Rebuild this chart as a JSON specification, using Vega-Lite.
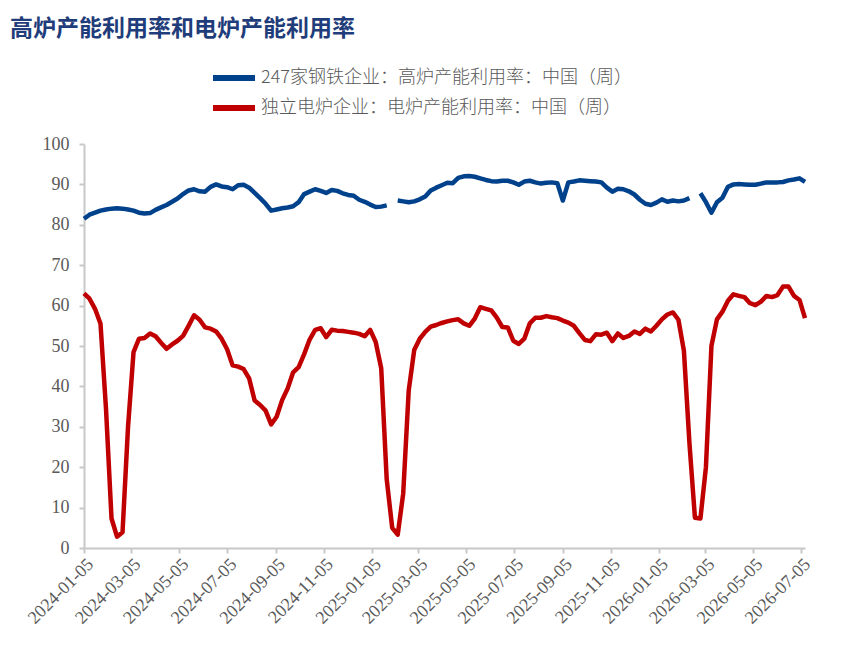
{
  "$schema": "https://vega.github.io/schema/vega-lite/v6.json",
  "width": 721,
  "height": 404,
  "autosize": {"type": "none"},
  "padding": {"left": 84, "top": 144, "right": 38, "bottom": 102},
  "background": "white",
  "title": {
    "text": "高炉产能利用率和电炉产能利用率",
    "anchor": "start",
    "frame": "group",
    "font": "Noto Sans CJK SC",
    "fontSize": 23,
    "fontWeight": "bold",
    "color": "#1F3D7A",
    "dx": -74,
    "offset": 22
  },
  "config": {"view": {"stroke": null}},
  "data": {
    "values": [
      {"date": "2024-01-05", "bf": 81.5, "eaf": 63.0},
      {"date": "2024-01-12", "bf": 82.5, "eaf": 61.7},
      {"date": "2024-01-19", "bf": 83.0, "eaf": 59.2},
      {"date": "2024-01-26", "bf": 83.5, "eaf": 55.5},
      {"date": "2024-02-02", "bf": 83.8, "eaf": 34.4},
      {"date": "2024-02-09", "bf": 84.0, "eaf": 7.3},
      {"date": "2024-02-16", "bf": 84.1, "eaf": 2.8},
      {"date": "2024-02-23", "bf": 84.0, "eaf": 3.9},
      {"date": "2024-03-01", "bf": 83.8, "eaf": 30.0},
      {"date": "2024-03-08", "bf": 83.5, "eaf": 48.5},
      {"date": "2024-03-15", "bf": 83.0, "eaf": 51.8},
      {"date": "2024-03-22", "bf": 82.8, "eaf": 52.0},
      {"date": "2024-03-29", "bf": 82.9, "eaf": 53.1},
      {"date": "2024-04-05", "bf": 83.7, "eaf": 52.4},
      {"date": "2024-04-12", "bf": 84.3, "eaf": 50.8},
      {"date": "2024-04-19", "bf": 84.9, "eaf": 49.3},
      {"date": "2024-04-26", "bf": 85.7, "eaf": 50.4},
      {"date": "2024-05-03", "bf": 86.5, "eaf": 51.3},
      {"date": "2024-05-10", "bf": 87.6, "eaf": 52.5},
      {"date": "2024-05-17", "bf": 88.5, "eaf": 55.0},
      {"date": "2024-05-24", "bf": 88.8, "eaf": 57.6},
      {"date": "2024-05-31", "bf": 88.3, "eaf": 56.5},
      {"date": "2024-06-07", "bf": 88.2, "eaf": 54.6},
      {"date": "2024-06-14", "bf": 89.4, "eaf": 54.3},
      {"date": "2024-06-21", "bf": 90.0, "eaf": 53.6},
      {"date": "2024-06-28", "bf": 89.5, "eaf": 51.8},
      {"date": "2024-07-05", "bf": 89.3, "eaf": 49.2},
      {"date": "2024-07-12", "bf": 88.8, "eaf": 45.2},
      {"date": "2024-07-19", "bf": 89.8, "eaf": 44.9},
      {"date": "2024-07-26", "bf": 89.9, "eaf": 44.3},
      {"date": "2024-08-02", "bf": 89.2, "eaf": 42.0},
      {"date": "2024-08-09", "bf": 87.9, "eaf": 36.5},
      {"date": "2024-08-16", "bf": 86.6, "eaf": 35.4},
      {"date": "2024-08-23", "bf": 85.2, "eaf": 34.0},
      {"date": "2024-08-30", "bf": 83.5, "eaf": 30.6},
      {"date": "2024-09-06", "bf": 83.8, "eaf": 32.5},
      {"date": "2024-09-13", "bf": 84.1, "eaf": 36.6},
      {"date": "2024-09-20", "bf": 84.3, "eaf": 39.5},
      {"date": "2024-09-27", "bf": 84.6, "eaf": 43.5},
      {"date": "2024-10-04", "bf": 85.6, "eaf": 44.8},
      {"date": "2024-10-11", "bf": 87.6, "eaf": 48.0},
      {"date": "2024-10-18", "bf": 88.2, "eaf": 51.6},
      {"date": "2024-10-25", "bf": 88.8, "eaf": 54.0},
      {"date": "2024-11-01", "bf": 88.4, "eaf": 54.4},
      {"date": "2024-11-08", "bf": 87.9, "eaf": 52.2},
      {"date": "2024-11-15", "bf": 88.6, "eaf": 54.0},
      {"date": "2024-11-22", "bf": 88.4, "eaf": 53.8},
      {"date": "2024-11-29", "bf": 87.8, "eaf": 53.7},
      {"date": "2024-12-06", "bf": 87.4, "eaf": 53.5},
      {"date": "2024-12-13", "bf": 87.2, "eaf": 53.3},
      {"date": "2024-12-20", "bf": 86.2, "eaf": 53.0},
      {"date": "2024-12-27", "bf": 85.7, "eaf": 52.4},
      {"date": "2025-01-03", "bf": 85.0, "eaf": 54.0},
      {"date": "2025-01-10", "bf": 84.4, "eaf": 51.0},
      {"date": "2025-01-17", "bf": 84.5, "eaf": 44.5},
      {"date": "2025-01-24", "bf": 84.8, "eaf": 17.0},
      {"date": "2025-01-31", "bf": null, "eaf": 5.0},
      {"date": "2025-02-07", "bf": 86.0, "eaf": 3.3},
      {"date": "2025-02-14", "bf": 85.8, "eaf": 13.5},
      {"date": "2025-02-21", "bf": 85.6, "eaf": 39.0},
      {"date": "2025-02-28", "bf": 85.8, "eaf": 49.0},
      {"date": "2025-03-07", "bf": 86.3, "eaf": 51.8},
      {"date": "2025-03-14", "bf": 87.0, "eaf": 53.5},
      {"date": "2025-03-21", "bf": 88.5, "eaf": 54.8},
      {"date": "2025-03-28", "bf": 89.2, "eaf": 55.2},
      {"date": "2025-04-04", "bf": 89.8, "eaf": 55.7},
      {"date": "2025-04-11", "bf": 90.4, "eaf": 56.1},
      {"date": "2025-04-18", "bf": 90.3, "eaf": 56.4},
      {"date": "2025-04-25", "bf": 91.6, "eaf": 56.6},
      {"date": "2025-05-02", "bf": 92.0, "eaf": 55.6},
      {"date": "2025-05-09", "bf": 92.1, "eaf": 55.0},
      {"date": "2025-05-16", "bf": 91.9, "eaf": 56.8},
      {"date": "2025-05-23", "bf": 91.5, "eaf": 59.6},
      {"date": "2025-05-30", "bf": 91.1, "eaf": 59.2},
      {"date": "2025-06-06", "bf": 90.8, "eaf": 58.8},
      {"date": "2025-06-13", "bf": 90.7, "eaf": 57.0},
      {"date": "2025-06-20", "bf": 90.9, "eaf": 54.7},
      {"date": "2025-06-27", "bf": 90.9, "eaf": 54.6},
      {"date": "2025-07-04", "bf": 90.5, "eaf": 51.3},
      {"date": "2025-07-11", "bf": 89.9, "eaf": 50.5},
      {"date": "2025-07-18", "bf": 90.7, "eaf": 51.8},
      {"date": "2025-07-25", "bf": 90.9, "eaf": 55.6},
      {"date": "2025-08-01", "bf": 90.5, "eaf": 57.0},
      {"date": "2025-08-08", "bf": 90.2, "eaf": 57.0},
      {"date": "2025-08-15", "bf": 90.4, "eaf": 57.4},
      {"date": "2025-08-22", "bf": 90.5, "eaf": 57.1},
      {"date": "2025-08-29", "bf": 90.3, "eaf": 56.9},
      {"date": "2025-09-05", "bf": 86.0, "eaf": 56.3},
      {"date": "2025-09-12", "bf": 90.5, "eaf": 55.8},
      {"date": "2025-09-19", "bf": 90.7, "eaf": 55.0},
      {"date": "2025-09-26", "bf": 91.0, "eaf": 53.2},
      {"date": "2025-10-03", "bf": 90.9, "eaf": 51.5},
      {"date": "2025-10-10", "bf": 90.8, "eaf": 51.2},
      {"date": "2025-10-17", "bf": 90.7, "eaf": 52.9},
      {"date": "2025-10-24", "bf": 90.5, "eaf": 52.8},
      {"date": "2025-10-31", "bf": 89.2, "eaf": 53.3},
      {"date": "2025-11-07", "bf": 88.2, "eaf": 51.2},
      {"date": "2025-11-14", "bf": 88.9, "eaf": 53.1},
      {"date": "2025-11-21", "bf": 88.8, "eaf": 52.0},
      {"date": "2025-11-28", "bf": 88.3, "eaf": 52.5},
      {"date": "2025-12-05", "bf": 87.5, "eaf": 53.6},
      {"date": "2025-12-12", "bf": 86.2, "eaf": 53.0},
      {"date": "2025-12-19", "bf": 85.2, "eaf": 54.3},
      {"date": "2025-12-26", "bf": 84.9, "eaf": 53.6},
      {"date": "2026-01-02", "bf": 85.5, "eaf": 55.0},
      {"date": "2026-01-09", "bf": 86.3, "eaf": 56.6},
      {"date": "2026-01-16", "bf": 85.7, "eaf": 57.8},
      {"date": "2026-01-23", "bf": 86.0, "eaf": 58.3},
      {"date": "2026-01-30", "bf": 85.8, "eaf": 56.5},
      {"date": "2026-02-06", "bf": 86.0, "eaf": 48.8},
      {"date": "2026-02-13", "bf": 86.6, "eaf": 26.0},
      {"date": "2026-02-20", "bf": null, "eaf": 7.5},
      {"date": "2026-02-27", "bf": 87.8, "eaf": 7.3},
      {"date": "2026-03-06", "bf": 85.6, "eaf": 20.0},
      {"date": "2026-03-13", "bf": 83.0, "eaf": 50.0},
      {"date": "2026-03-20", "bf": 85.6, "eaf": 56.6},
      {"date": "2026-03-27", "bf": 86.7, "eaf": 58.5},
      {"date": "2026-04-03", "bf": 89.4, "eaf": 61.2},
      {"date": "2026-04-10", "bf": 90.0, "eaf": 62.8},
      {"date": "2026-04-17", "bf": 90.1, "eaf": 62.4},
      {"date": "2026-04-24", "bf": 90.0, "eaf": 62.1},
      {"date": "2026-05-01", "bf": 89.9, "eaf": 60.6},
      {"date": "2026-05-08", "bf": 89.9, "eaf": 60.1},
      {"date": "2026-05-15", "bf": 90.2, "eaf": 61.0},
      {"date": "2026-05-22", "bf": 90.5, "eaf": 62.4},
      {"date": "2026-05-29", "bf": 90.5, "eaf": 62.1},
      {"date": "2026-06-05", "bf": 90.5, "eaf": 62.6},
      {"date": "2026-06-12", "bf": 90.6, "eaf": 64.7},
      {"date": "2026-06-19", "bf": 91.0, "eaf": 64.7},
      {"date": "2026-06-26", "bf": 91.2, "eaf": 62.4},
      {"date": "2026-07-03", "bf": 91.5, "eaf": 61.4},
      {"date": "2026-07-10", "bf": 90.6, "eaf": 56.9}
    ]
  },
  "transform": [{"fold": ["bf", "eaf"], "as": ["series", "value"]}],
  "mark": {"type": "line", "strokeWidth": 4.5, "invalid": "break-paths-filter-domains", "strokeJoin": "round"},
  "encoding": {
    "x": {
      "field": "date",
      "type": "temporal",
      "scale": {
        "type": "utc",
        "domain": [
          {"year": 2024, "month": 1, "date": 5, "utc": true},
          {"year": 2026, "month": 7, "date": 10, "utc": true}
        ]
      },
      "axis": {
        "title": null,
        "grid": false,
        "format": "%Y-%m-%d",
        "values": [
          {"year": 2024, "month": 1, "date": 5, "utc": true},
          {"year": 2024, "month": 3, "date": 5, "utc": true},
          {"year": 2024, "month": 5, "date": 5, "utc": true},
          {"year": 2024, "month": 7, "date": 5, "utc": true},
          {"year": 2024, "month": 9, "date": 5, "utc": true},
          {"year": 2024, "month": 11, "date": 5, "utc": true},
          {"year": 2025, "month": 1, "date": 5, "utc": true},
          {"year": 2025, "month": 3, "date": 5, "utc": true},
          {"year": 2025, "month": 5, "date": 5, "utc": true},
          {"year": 2025, "month": 7, "date": 5, "utc": true},
          {"year": 2025, "month": 9, "date": 5, "utc": true},
          {"year": 2025, "month": 11, "date": 5, "utc": true},
          {"year": 2026, "month": 1, "date": 5, "utc": true},
          {"year": 2026, "month": 3, "date": 5, "utc": true},
          {"year": 2026, "month": 5, "date": 5, "utc": true},
          {"year": 2026, "month": 7, "date": 5, "utc": true}
        ],
        "labelAngle": -45,
        "labelFont": "Liberation Serif",
        "labelFontSize": 18,
        "labelColor": "#595959",
        "labelOverlap": false,
        "labelFlush": false,
        "labelPadding": 2,
        "domainColor": "#C8C8C8",
        "domainWidth": 2,
        "tickColor": "#C8C8C8",
        "tickWidth": 2,
        "tickSize": 5
      }
    },
    "y": {
      "field": "value",
      "type": "quantitative",
      "scale": {"domain": [0, 100], "nice": false},
      "axis": {
        "title": null,
        "grid": false,
        "values": [0, 10, 20, 30, 40, 50, 60, 70, 80, 90, 100],
        "labelFont": "Liberation Serif",
        "labelFontSize": 18,
        "labelColor": "#595959",
        "labelPadding": 10,
        "labelFlush": false,
        "domainColor": "#C8C8C8",
        "domainWidth": 2,
        "tickColor": "#C8C8C8",
        "tickWidth": 2,
        "tickSize": 5
      }
    },
    "color": {
      "field": "series",
      "type": "nominal",
      "scale": {"domain": ["bf", "eaf"], "range": ["#00418C", "#C00000"]},
      "legend": {
        "title": null,
        "orient": "none",
        "legendX": 126,
        "legendY": -81,
        "direction": "vertical",
        "symbolType": "stroke",
        "symbolSize": 1764,
        "symbolStrokeWidth": 6,
        "clipHeight": 30,
        "rowPadding": 0,
        "labelOffset": 3,
        "labelFont": "Noto Sans CJK SC",
        "labelFontSize": 18,
        "labelFontWeight": 300,
        "labelColor": "#595959",
        "labelLimit": 0,
        "labelExpr": "datum.value == 'bf' ? '247家钢铁企业：高炉产能利用率：中国（周）' : '独立电炉企业：电炉产能利用率：中国（周）'"
      }
    }
  }
}
